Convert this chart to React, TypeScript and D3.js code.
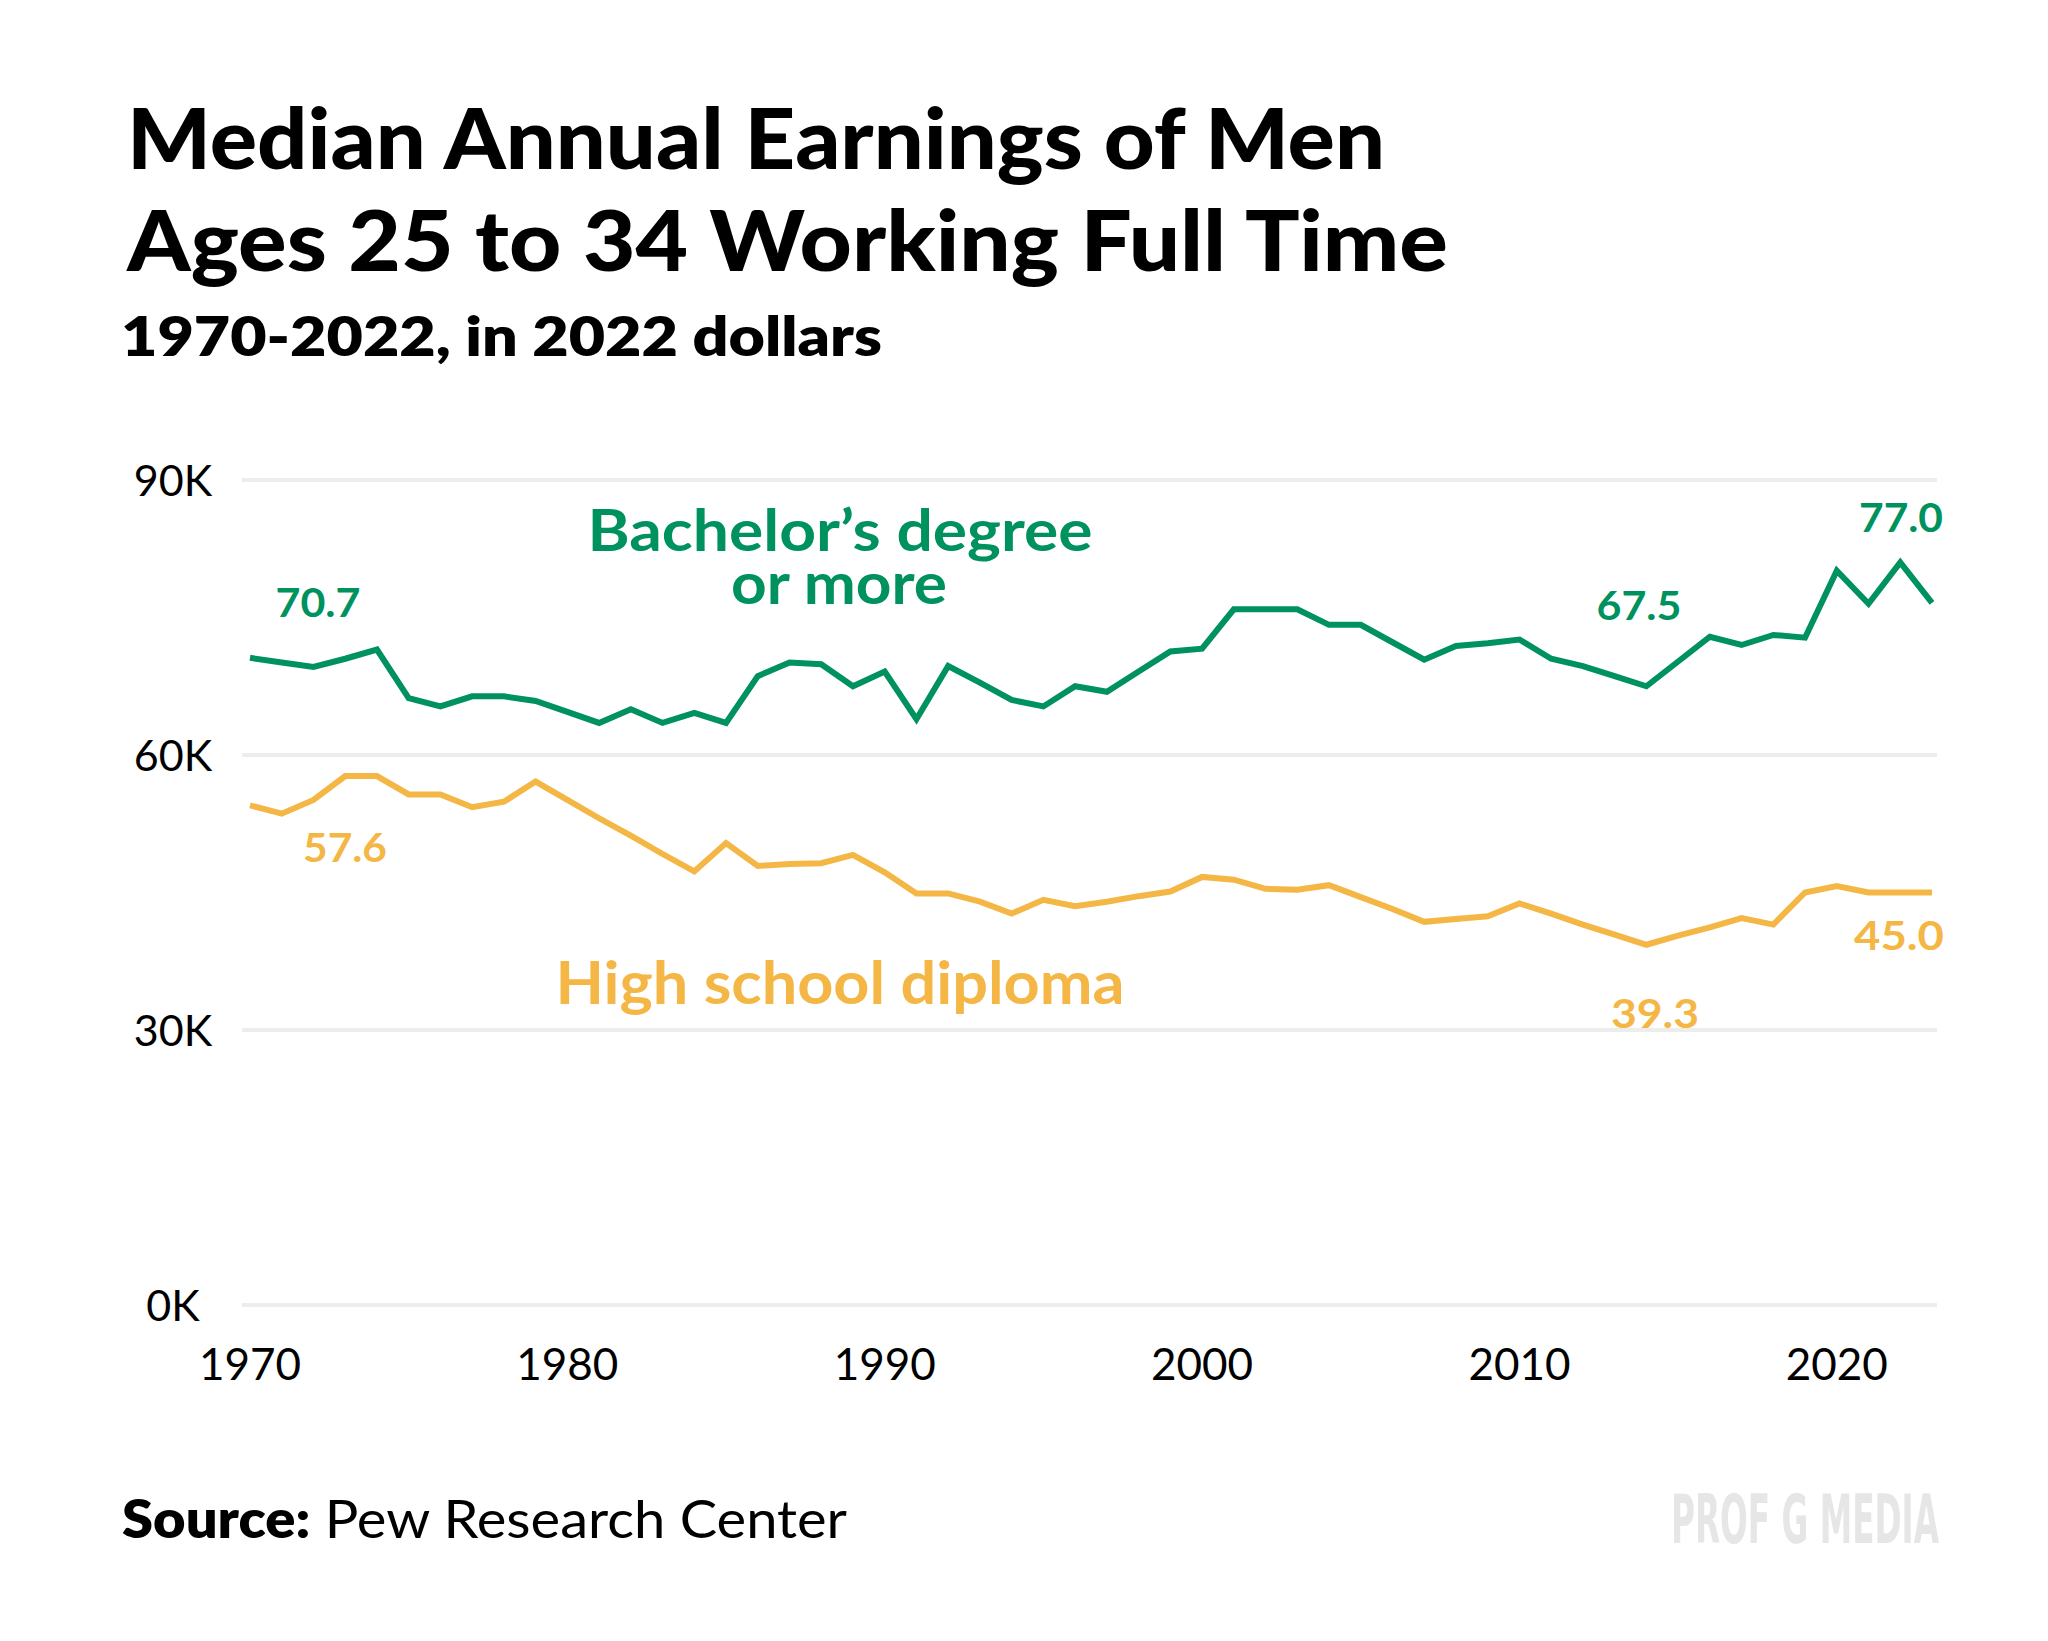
import React from "react";
import * as d3 from "d3";

// ---- Data (values in thousands of 2022 dollars) ----
const years: number[] = d3.range(1970, 2024);

const bachelorValues: number[] = [
  70.6, 70.1, 69.6, 70.5, 71.5, 66.2, 65.3, 66.4, 66.4, 65.9,
  64.7, 63.5, 65.0, 63.5, 64.6, 63.5, 68.6, 70.1, 69.9, 67.5,
  69.1, 63.9, 69.7, 67.9, 66.0, 65.3, 67.5, 66.9, 69.1, 71.3,
  71.6, 75.9, 75.9, 75.9, 74.2, 74.2, 72.3, 70.4, 71.9, 72.2,
  72.6, 70.5, 69.7, 68.6, 67.5, 70.2, 72.9, 72.0, 73.1, 72.8,
  80.1, 76.5, 81.0, 76.6,
];

const highSchoolValues: number[] = [
  54.5, 53.6, 55.1, 57.7, 57.7, 55.7, 55.7, 54.3, 54.9, 57.1,
  55.1, 53.1, 51.2, 49.2, 47.3, 50.4, 47.9, 48.1, 48.2, 49.1,
  47.2, 44.9, 44.9, 44.0, 42.7, 44.2, 43.5, 44.0, 44.6, 45.1,
  46.7, 46.4, 45.4, 45.3, 45.8, 44.5, 43.2, 41.8, 42.1, 42.4,
  43.8, 42.7, 41.5, 40.4, 39.3, 40.3, 41.2, 42.2, 41.5, 45.0,
  45.7, 45.0, 45.0, 45.0,
];

const yTickValues: number[] = [0, 30, 60, 90];
const xTickValues: number[] = [1970, 1980, 1990, 2000, 2010, 2020];

const bachelorCallouts: string[] = ["70.7", "67.5", "77.0"];
const highSchoolCallouts: string[] = ["57.6", "39.3", "45.0"];

const titleLines: string[] = [
  "Median Annual Earnings of Men",
  "Ages 25 to 34 Working Full Time",
];
const subtitle = "1970-2022, in 2022 dollars";
const bachelorLabel: string[] = ["Bachelor\u2019s degree", "or more"];
const highSchoolLabel = "High school diploma";

// ---- Layout / style ----
const W = 2048;
const H = 1641;
const GREEN = "#00925E";
const YELLOW = "#F4B746";
const GRID = "#EDEDED";
const FONT = "Lato, 'Open Sans', sans-serif";

const bachelorCalloutPos = [
  { x: 318, y: 617, w: 85 },
  { x: 1639, y: 620, w: 85 },
  { x: 1901, y: 532, w: 84 },
];
const highSchoolCalloutPos = [
  { x: 345, y: 862, w: 84 },
  { x: 1655, y: 1028, w: 88 },
  { x: 1899, y: 950, w: 90 },
];

export default function App() {
  const x = d3.scaleLinear().domain([1970, 2023]).range([250, 1932]);
  const y = d3.scaleLinear().domain([0, 90]).range([1305, 480]);

  const line = d3
    .line<number>()
    .x((_, i) => x(years[i]))
    .y((d) => y(d));

  return (
    <svg
      width={W}
      height={H}
      viewBox={`0 0 ${W} ${H}`}
      style={{ position: "absolute", left: 0, top: 0, background: "#fff" }}
    >
      <rect x={0} y={0} width={W} height={H} fill="#fff" />

      {/* Titles */}
      <text
        x={127}
        y={169}
        fontFamily={FONT}
        fontWeight={900}
        fontSize={84}
        fill="#000"
        textLength={1258}
        lengthAdjust="spacingAndGlyphs"
      >
        {titleLines[0]}
      </text>
      <text
        x={127}
        y={271}
        fontFamily={FONT}
        fontWeight={900}
        fontSize={84}
        fill="#000"
        textLength={1321}
        lengthAdjust="spacingAndGlyphs"
      >
        {titleLines[1]}
      </text>
      <text
        x={121}
        y={356}
        fontFamily={FONT}
        fontWeight={800}
        fontSize={54}
        fill="#000"
        textLength={761}
        lengthAdjust="spacingAndGlyphs"
      >
        {subtitle}
      </text>

      {/* Grid lines */}
      {yTickValues.map((v) => (
        <line
          key={`g${v}`}
          x1={242}
          x2={1937}
          y1={y(v)}
          y2={y(v)}
          stroke={GRID}
          strokeWidth={4}
        />
      ))}

      {/* Y tick labels */}
      {yTickValues.map((v) => (
        <text
          key={`yl${v}`}
          x={173}
          y={y(v) + 16}
          textAnchor="middle"
          fontFamily={FONT}
          fontSize={43}
          fill="#000"
        >
          {`${v}K`}
        </text>
      ))}

      {/* X tick labels */}
      {xTickValues.map((v) => (
        <text
          key={`xl${v}`}
          x={x(v)}
          y={1380}
          textAnchor="middle"
          fontFamily={FONT}
          fontSize={44}
          fill="#000"
        >
          {v}
        </text>
      ))}

      {/* Lines */}
      <path
        d={line(highSchoolValues) || ""}
        fill="none"
        stroke={YELLOW}
        strokeWidth={6}
        strokeLinejoin="miter"
      />
      <path
        d={line(bachelorValues) || ""}
        fill="none"
        stroke={GREEN}
        strokeWidth={6}
        strokeLinejoin="miter"
      />

      {/* Series labels */}
      <text
        x={840}
        y={551}
        textAnchor="middle"
        fontFamily={FONT}
        fontWeight={700}
        fontSize={58}
        fill={GREEN}
        textLength={505}
        lengthAdjust="spacingAndGlyphs"
      >
        {bachelorLabel[0]}
      </text>
      <text
        x={839}
        y={604}
        textAnchor="middle"
        fontFamily={FONT}
        fontWeight={700}
        fontSize={58}
        fill={GREEN}
        textLength={216}
        lengthAdjust="spacingAndGlyphs"
      >
        {bachelorLabel[1]}
      </text>
      <text
        x={840}
        y={1004}
        textAnchor="middle"
        fontFamily={FONT}
        fontWeight={700}
        fontSize={60}
        fill={YELLOW}
        textLength={569}
        lengthAdjust="spacingAndGlyphs"
      >
        {highSchoolLabel}
      </text>

      {/* Callouts */}
      {bachelorCallouts.map((t, i) => (
        <text
          key={`bc${i}`}
          x={bachelorCalloutPos[i].x}
          y={bachelorCalloutPos[i].y}
          textAnchor="middle"
          fontFamily={FONT}
          fontWeight={700}
          fontSize={41}
          fill={GREEN}
          textLength={bachelorCalloutPos[i].w}
          lengthAdjust="spacingAndGlyphs"
        >
          {t}
        </text>
      ))}
      {highSchoolCallouts.map((t, i) => (
        <text
          key={`hc${i}`}
          x={highSchoolCalloutPos[i].x}
          y={highSchoolCalloutPos[i].y}
          textAnchor="middle"
          fontFamily={FONT}
          fontWeight={700}
          fontSize={41}
          fill={YELLOW}
          textLength={highSchoolCalloutPos[i].w}
          lengthAdjust="spacingAndGlyphs"
        >
          {t}
        </text>
      ))}

      {/* Source */}
      <text
        x={122}
        y={1538}
        fontFamily={FONT}
        fontSize={53}
        fill="#000"
        textLength={725}
        lengthAdjust="spacingAndGlyphs"
      >
        <tspan fontWeight={800}>Source:</tspan>
        <tspan> Pew Research Center</tspan>
      </text>

      {/* Watermark */}
      <text
        x={1939}
        y={1543}
        textAnchor="end"
        fontFamily="'DejaVu Sans Condensed', 'Liberation Sans Narrow', sans-serif"
        fontWeight={700}
        fontSize={68}
        fill="#E6E6E6"
        textLength={268}
        lengthAdjust="spacingAndGlyphs"
      >
        PROF G MEDIA
      </text>
    </svg>
  );
}
